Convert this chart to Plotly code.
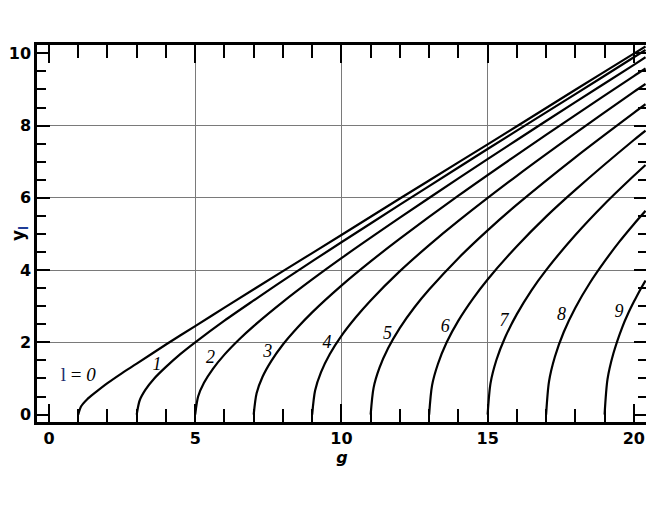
import plotly.graph_objects as go

# curves y_l(g), one pair of lists per l
g0 = [1, 1.1, 1.3, 1.6, 2, 2.5, 3, 4, 5, 6, 8, 10, 12, 14, 16, 18, 20, 20.4]
y0 = [0, 0.23, 0.42, 0.62, 0.87, 1.15, 1.41, 1.94, 2.45, 2.96, 3.97, 4.97, 5.98, 6.98, 7.98, 8.99, 9.99, 10.19]
g1 = [3, 3.1, 3.3, 3.6, 4, 4.5, 5, 6, 7, 8, 10, 12, 14, 16, 18, 20, 20.4]
y1 = [0, 0.39, 0.69, 1.00, 1.32, 1.68, 2.00, 2.60, 3.16, 3.71, 4.77, 5.81, 6.84, 7.86, 8.87, 9.89, 10.09]
g2 = [5, 5.1, 5.3, 5.6, 6, 6.5, 7, 8, 9, 10, 12, 14, 16, 18, 20, 20.4]
y2 = [0, 0.50, 0.88, 1.26, 1.66, 2.08, 2.45, 3.12, 3.74, 4.33, 5.45, 6.54, 7.60, 8.65, 9.68, 9.89]
g3 = [7, 7.1, 7.3, 7.6, 8, 8.5, 9, 10, 11, 12, 14, 16, 18, 20, 20.4]
y3 = [0, 0.59, 1.04, 1.48, 1.94, 2.41, 2.83, 3.57, 4.24, 4.87, 6.06, 7.19, 8.29, 9.37, 9.58]
g4 = [9, 9.1, 9.3, 9.6, 10, 10.5, 11, 12, 13, 14, 16, 18, 20, 20.4]
y4 = [0, 0.67, 1.17, 1.67, 2.18, 2.70, 3.16, 3.97, 4.69, 5.36, 6.61, 7.79, 8.93, 9.15]
g5 = [11, 11.1, 11.3, 11.6, 12, 12.5, 13, 14, 15, 16, 18, 20, 20.4]
y5 = [0, 0.74, 1.29, 1.84, 2.40, 2.97, 3.46, 4.33, 5.10, 5.81, 7.12, 8.35, 8.59]
g6 = [13, 13.1, 13.3, 13.6, 14, 14.5, 15, 16, 17, 18, 20, 20.4]
y6 = [0, 0.81, 1.40, 2.00, 2.60, 3.21, 3.74, 4.66, 5.48, 6.22, 7.60, 7.86]
g7 = [15, 15.1, 15.3, 15.6, 16, 16.5, 17, 18, 19, 20, 20.4]
y7 = [0, 0.87, 1.51, 2.14, 2.78, 3.44, 4.00, 4.97, 5.83, 6.61, 6.91]
g8 = [17, 17.1, 17.3, 17.6, 18, 18.5, 19, 19.5, 20, 20.4]
y8 = [0, 0.92, 1.60, 2.28, 2.96, 3.65, 4.24, 4.78, 5.27, 5.64]
g9 = [19, 19.1, 19.3, 19.6, 19.8, 20, 20.2, 20.4]
y9 = [0, 0.98, 1.69, 2.41, 2.79, 3.12, 3.43, 3.71]

# curve labels
label_text = ["<i>1</i>", "<i>2</i>", "<i>3</i>", "<i>4</i>", "<i>5</i>",
              "<i>6</i>", "<i>7</i>", "<i>8</i>", "<i>9</i>"]
label_g = [3.69, 5.52, 7.48, 9.51, 11.58, 13.55, 15.56, 17.53, 19.49]
label_y = [1.37, 1.55, 1.73, 1.98, 2.21, 2.40, 2.57, 2.75, 2.83]

x_ticks = [0, 5, 10, 15, 20]
y_ticks = [0, 2, 4, 6, 8, 10]
x_grid = [5, 10, 15]
y_grid = [2, 4, 6, 8]

curves = [(g0, y0), (g1, y1), (g2, y2), (g3, y3), (g4, y4),
          (g5, y5), (g6, y6), (g7, y7), (g8, y8), (g9, y9)]

fig = go.Figure()

for gs, ys in curves:
    fig.add_trace(go.Scatter(x=gs, y=ys, mode='lines',
                             line=dict(color='black', width=2.2, shape='spline', smoothing=0.8),
                             showlegend=False, hoverinfo='skip'))

# labels live on the overlay axes so those axes (which only carry the grid) get drawn
fig.add_trace(go.Scatter(x=label_g, y=label_y, mode='text', text=label_text,
                         textfont=dict(family='Liberation Serif', size=18, color='black'),
                         xaxis='x2', yaxis='y2', showlegend=False, hoverinfo='skip'))
fig.add_trace(go.Scatter(x=[1.0], y=[1.06], mode='text',
                         text=["<span style='color:#1b2a6e'>l</span> = <i>0</i>"],
                         textfont=dict(family='Liberation Serif', size=19, color='black'),
                         xaxis='x2', yaxis='y2', showlegend=False, hoverinfo='skip'))

x_range = [-0.41, 20.45]
y_range = [-0.205, 10.23]
tickfont = dict(family='DejaVu Sans', size=16, color='black')

# the page body adds an 8px offset, so margins are trimmed to suit
fig.update_layout(
    width=654, height=505,
    margin=dict(l=29, r=15, t=37, b=91),
    paper_bgcolor='white', plot_bgcolor='white',
    xaxis=dict(range=x_range, tickvals=x_ticks, ticktext=['<b>%d</b>' % v for v in x_ticks],
               ticks='inside', ticklen=18, tickwidth=2, tickcolor='black',
               minor=dict(dtick=1, ticks='inside', ticklen=13, tickwidth=2, tickcolor='black', showgrid=False),
               showline=True, linewidth=2.5, linecolor='black', mirror='allticks',
               showgrid=False, zeroline=False, tickfont=tickfont, automargin=False,
               title=dict(text='<b><i>g</i></b>', font=dict(family='DejaVu Sans', size=16, color='black'),
                          standoff=0)),
    yaxis=dict(range=y_range, tickvals=y_ticks, ticktext=['<b>%d</b>' % v for v in y_ticks],
               ticks='inside', ticklen=13, tickwidth=2, tickcolor='black',
               minor=dict(dtick=0.5, ticks='inside', ticklen=9, tickwidth=2, tickcolor='black', showgrid=False),
               showline=True, linewidth=2.5, linecolor='black', mirror='allticks',
               showgrid=False, zeroline=False, tickfont=tickfont, automargin=False,
               title=dict(text="<b>y<sub><span style='color:#1f3c96'>l</span></sub></b>",
                          font=dict(family='DejaVu Sans', size=17, color='black'), standoff=0)),
    xaxis2=dict(overlaying='x', anchor='y2', range=x_range, tickvals=x_grid, showticklabels=False,
                ticks='', showgrid=True, gridcolor='#7a7a7a', gridwidth=1, showline=False,
                zeroline=False, automargin=False),
    yaxis2=dict(overlaying='y', anchor='x2', range=y_range, tickvals=y_grid, showticklabels=False,
                ticks='', showgrid=True, gridcolor='#7a7a7a', gridwidth=1, showline=False,
                zeroline=False, automargin=False),
)

fig.write_html("out.html")
